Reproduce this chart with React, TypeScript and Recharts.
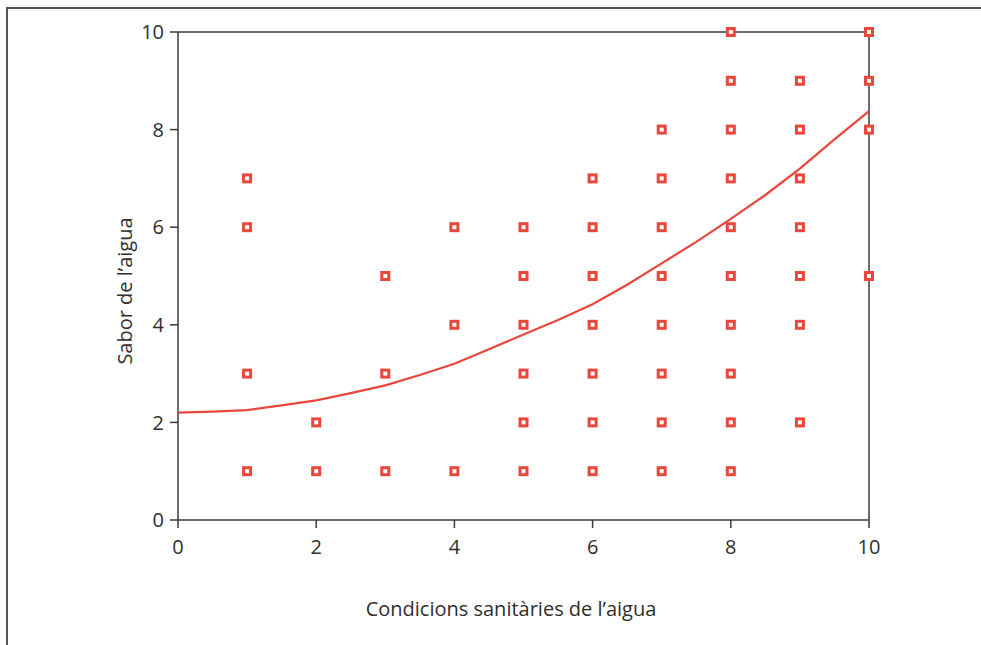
import React from "react";
import {
  ScatterChart,
  Scatter,
  XAxis,
  YAxis,
  ReferenceLine,
} from "recharts";

// observations: sanitary conditions (x) vs taste (y)
const sanitaryScores = [1, 1, 1, 1, 2, 2, 3, 3, 3, 4, 4, 4, 5, 5, 5, 5, 5, 5, 6, 6, 6, 6, 6, 6, 6, 7, 7, 7, 7, 7, 7, 7, 7, 8, 8, 8, 8, 8, 8, 8, 8, 8, 8, 9, 9, 9, 9, 9, 9, 9, 10, 10, 10, 10];
const tasteScores = [7, 6, 3, 1, 2, 1, 5, 3, 1, 6, 4, 1, 6, 5, 4, 3, 2, 1, 7, 6, 5, 4, 3, 2, 1, 8, 7, 6, 5, 4, 3, 2, 1, 10, 9, 8, 7, 6, 5, 4, 3, 2, 1, 9, 8, 7, 6, 5, 4, 2, 10, 9, 8, 5];

// fitted curve
const fitX = [0, 0.5, 1, 1.5, 2, 2.5, 3, 3.5, 4, 4.5, 5, 5.5, 6, 6.5, 7, 7.5, 8, 8.5, 9, 9.5, 10];
const fitY = [2.2, 2.22, 2.25, 2.35, 2.45, 2.6, 2.76, 2.97, 3.2, 3.5, 3.8, 4.1, 4.42, 4.82, 5.26, 5.7, 6.17, 6.66, 7.2, 7.8, 8.38];

const axisTicks = [0, 2, 4, 6, 8, 10];

const RED = "#e9463c";
const AXIS = "#3a3a3a";
const TEXT = "#2e2e2e";
const FONT = "'Open Sans', 'Noto Sans', sans-serif";

const points = sanitaryScores.map((x, i) => ({ x, y: tasteScores[i] }));
const curve = fitX.map((x, i) => ({ x, y: fitY[i] }));

const SquareMarker = (props: any) => {
  const { cx, cy } = props;
  if (cx == null || cy == null) return <g />;
  return (
    <rect
      x={cx - 3.5}
      y={cy - 3.5}
      width={7}
      height={7}
      fill="#fff"
      stroke={RED}
      strokeWidth={3}
    />
  );
};

const tickStyle = { fill: TEXT, fontSize: 20, fontFamily: FONT };

export default function App() {
  return (
    <div style={{ position: "absolute", left: 0, top: 0, width: 981, height: 645, background: "#fff" }}>
      <div
        style={{
          position: "absolute",
          left: 6,
          top: 7,
          width: 1000,
          height: 700,
          borderLeft: "2px solid #555",
          borderTop: "2px solid #555",
        }}
      />
      <ScatterChart
        width={981}
        height={645}
        margin={{ top: 32, right: 112, bottom: 25, left: 0 }}
        style={{ position: "absolute", left: 0, top: 0 }}
      >
        <XAxis
          type="number"
          dataKey="x"
          domain={[0, 10]}
          ticks={axisTicks}
          height={100}
          tick={tickStyle}
          tickSize={8}
          tickMargin={12}
          axisLine={{ stroke: AXIS, strokeWidth: 1.5 }}
          tickLine={{ stroke: AXIS, strokeWidth: 1.5 }}
          label={() => (
            <text
              x={511}
              y={608}
              textAnchor="middle"
              dominantBaseline="central"
              fill={TEXT}
              fontSize={20}
              fontFamily={FONT}
            >
              Condicions sanitàries de l’aigua
            </text>
          )}
        />
        <YAxis
          type="number"
          dataKey="y"
          domain={[0, 10]}
          ticks={axisTicks}
          width={178}
          tick={tickStyle}
          tickSize={8}
          tickMargin={6}
          axisLine={{ stroke: AXIS, strokeWidth: 1.5 }}
          tickLine={{ stroke: AXIS, strokeWidth: 1.5 }}
          label={() => (
            <text
              x={124}
              y={291}
              transform="rotate(-90 124 291)"
              textAnchor="middle"
              dominantBaseline="central"
              fill={TEXT}
              fontSize={20}
              fontFamily={FONT}
            >
              Sabor de l’aigua
            </text>
          )}
        />
        <ReferenceLine y={10} stroke={AXIS} strokeWidth={1.5} />
        <ReferenceLine x={10} stroke={AXIS} strokeWidth={1.5} />
        <Scatter
          data={curve}
          line={{ stroke: RED, strokeWidth: 2.2 }}
          lineType="joint"
          shape={() => <g />}
          isAnimationActive={false}
        />
        <Scatter
          data={points}
          shape={SquareMarker}
          isAnimationActive={false}
        />
      </ScatterChart>
    </div>
  );
}
